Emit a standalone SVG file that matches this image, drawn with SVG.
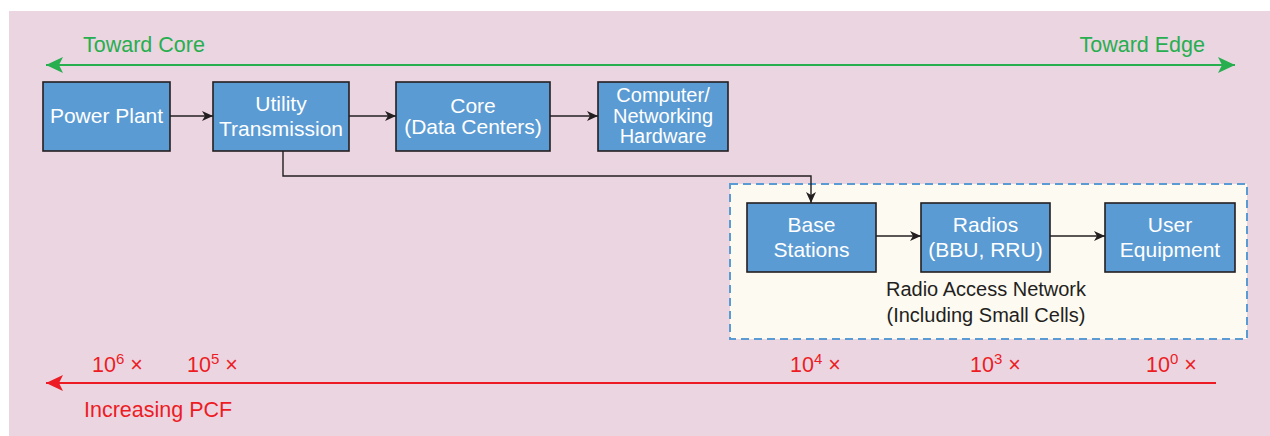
<svg xmlns="http://www.w3.org/2000/svg" width="1270" height="436" viewBox="0 0 1270 436">
  <style>
    .box { fill: #5b9bd3; stroke: #231f20; stroke-width: 1.6; }
    .lbl { font-family: "Liberation Sans", Arial, sans-serif; font-size: 21px; fill: #ffffff; text-anchor: middle; }
    .lbl-tight { font-family: "Liberation Sans", Arial, sans-serif; font-size: 20px; fill: #ffffff; text-anchor: middle; }
    .conn { fill: none; stroke: #231f20; stroke-width: 1.4; }
    .green { font-family: "Liberation Sans", Arial, sans-serif; font-size: 21.5px; fill: #27ae4f; }
    .red { font-family: "Liberation Sans", Arial, sans-serif; font-size: 21.5px; fill: #ed1c24; }
    .ran { font-family: "Liberation Sans", Arial, sans-serif; font-size: 20px; fill: #231f20; text-anchor: middle; }
  </style>
  <defs>
    <marker id="arrow" markerUnits="userSpaceOnUse" markerWidth="12" markerHeight="10" refX="11" refY="5" orient="auto">
      <path d="M0,0 L11,5 L0,10 L3,5 z" fill="#231f20"/>
    </marker>
    <marker id="arrowGreen" markerUnits="userSpaceOnUse" markerWidth="18" markerHeight="18" refX="17" refY="9" orient="auto-start-reverse">
      <path d="M0,1 L17,9 L0,17 L4,9 z" fill="#27ae4f"/>
    </marker>
    <marker id="arrowRed" markerUnits="userSpaceOnUse" markerWidth="18" markerHeight="18" refX="17" refY="9" orient="auto">
      <path d="M0,1 L17,9 L0,17 L4,9 z" fill="#ed1c24"/>
    </marker>
  </defs>

  <!-- panel -->
  <rect x="0" y="0" width="1270" height="436" fill="#ffffff"/>
  <rect x="9" y="11" width="1261" height="425" fill="#ead5e1"/>

  <!-- direction arrow along the top -->
  <g id="direction">
    <line x1="46" y1="65" x2="1235" y2="65" stroke="#27ae4f" stroke-width="2.2" marker-start="url(#arrowGreen)" marker-end="url(#arrowGreen)"/>
    <text class="green" x="83" y="52">Toward Core</text>
    <text class="green" x="1205" y="52" text-anchor="end">Toward Edge</text>
  </g>

  <!-- radio access network group -->
  <g id="ran">
    <rect x="730" y="184" width="517" height="155" fill="#fdfaf2" stroke="#5b9bd3" stroke-width="2" stroke-dasharray="8 5"/>
    <text class="ran" x="986" y="296">Radio Access Network</text>
    <text class="ran" x="986" y="322">(Including Small Cells)</text>
  </g>

  <!-- connectors -->
  <g id="connectors">
    <line class="conn" x1="170" y1="116" x2="213" y2="116" marker-end="url(#arrow)"/>
    <line class="conn" x1="349" y1="116" x2="396" y2="116" marker-end="url(#arrow)"/>
    <line class="conn" x1="550" y1="116" x2="598" y2="116" marker-end="url(#arrow)"/>
    <polyline class="conn" points="283,151 283,176 811,176 811,203" marker-end="url(#arrow)"/>
    <line class="conn" x1="876" y1="236" x2="921" y2="236" marker-end="url(#arrow)"/>
    <line class="conn" x1="1050" y1="236" x2="1105" y2="236" marker-end="url(#arrow)"/>
  </g>

  <g id="power-plant">
    <rect class="box" x="43" y="82" width="127" height="69"/>
    <text class="lbl" x="106.5" y="123">Power Plant</text>
  </g>
  <g id="utility-transmission">
    <rect class="box" x="213" y="82" width="136" height="69"/>
    <text class="lbl" x="281" y="111">Utility</text>
    <text class="lbl" x="281" y="136">Transmission</text>
  </g>
  <g id="core">
    <rect class="box" x="396" y="82" width="154" height="69"/>
    <text class="lbl" x="473" y="113">Core</text>
    <text class="lbl" x="473" y="134">(Data Centers)</text>
  </g>
  <g id="hardware">
    <rect class="box" x="598" y="82" width="130" height="69"/>
    <text class="lbl-tight" x="663" y="102">Computer/</text>
    <text class="lbl-tight" x="663" y="122.5">Networking</text>
    <text class="lbl-tight" x="663" y="143">Hardware</text>
  </g>
  <g id="base-stations">
    <rect class="box" x="747" y="203" width="129" height="69"/>
    <text class="lbl" x="811.5" y="232">Base</text>
    <text class="lbl" x="811.5" y="257">Stations</text>
  </g>
  <g id="radios">
    <rect class="box" x="921" y="203" width="129" height="69"/>
    <text class="lbl" x="985.5" y="232">Radios</text>
    <text class="lbl" x="985.5" y="257">(BBU, RRU)</text>
  </g>
  <g id="user-equipment">
    <rect class="box" x="1105" y="203" width="130" height="69"/>
    <text class="lbl" x="1170" y="232">User</text>
    <text class="lbl" x="1170" y="257">Equipment</text>
  </g>

  <!-- PCF scale along the bottom -->
  <g id="pcf">
    <line x1="1216" y1="383" x2="46" y2="383" stroke="#ed1c24" stroke-width="2.2" marker-end="url(#arrowRed)"/>
    <text class="red" x="92" y="372">10<tspan font-size="15" dy="-8">6</tspan><tspan dy="8"> ×</tspan></text>
    <text class="red" x="187" y="372">10<tspan font-size="15" dy="-8">5</tspan><tspan dy="8"> ×</tspan></text>
    <text class="red" x="790" y="372">10<tspan font-size="15" dy="-8">4</tspan><tspan dy="8"> ×</tspan></text>
    <text class="red" x="970" y="372">10<tspan font-size="15" dy="-8">3</tspan><tspan dy="8"> ×</tspan></text>
    <text class="red" x="1146" y="372">10<tspan font-size="15" dy="-8">0</tspan><tspan dy="8"> ×</tspan></text>
    <text class="red" x="84" y="417">Increasing PCF</text>
  </g>
</svg>
